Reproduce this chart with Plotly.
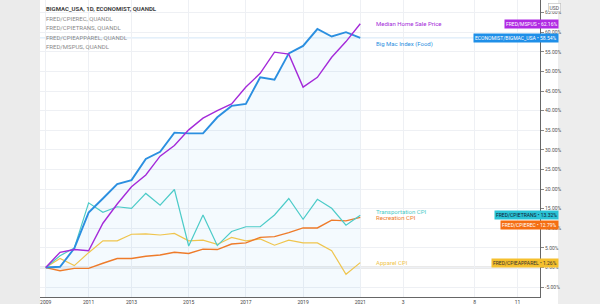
import plotly.graph_objects as go

# ---- data (percent change since 2009) ----
idx = list(range(23))
big_mac = [0, 0.2, 4.9, 14.0, 17.6, 21.3, 22.3, 27.7, 29.5, 34.4, 34.2, 34.2, 38.3, 41.2,
           41.7, 48.5, 47.9, 54.6, 56.5, 60.8, 58.9, 60.0, 58.54]
home = [0, 3.9, 4.6, 4.3, 11.3, 16.2, 20.6, 23.6, 28.4, 31.1, 35.1, 38.1, 40.0, 41.7,
        46.0, 49.5, 54.9, 54.4, 46.0, 48.5, 53.6, 57.6, 62.16]
transport = [0, 3.0, 5.0, 16.5, 14.1, 15.5, 15.1, 18.9, 15.9, 19.9, 5.5, 13.4, 5.6, 9.2,
             10.4, 10.4, 13.4, 17.6, 12.3, 17.4, 15.1, 10.8, 13.32]
recreation = [0, -0.8, -0.2, -0.2, 1.1, 2.3, 2.3, 2.9, 3.2, 3.9, 3.6, 4.7, 4.6, 6.0,
              6.3, 7.7, 7.9, 8.9, 10.1, 10.1, 12.1, 11.9, 12.79]
apparel = [0, 2.3, 0.5, 3.8, 6.8, 6.8, 8.5, 8.6, 8.3, 8.7, 6.8, 7.0, 5.9, 7.7,
           6.8, 7.3, 5.7, 7.0, 6.3, 6.3, 4.3, -1.7, 1.26]

tick_pos = [0, 3, 6, 10, 14, 18, 22, 25, 30, 33]
tick_text = ["2009", "2011", "2013", "2015", "2017", "2019", "2021", "3", "8", "11"]
y_ticks = list(range(-5, 70, 5))

legend_lines = ["BIGMAC_USA, 1D, ECONOMIST, QUANDL", "FRED/CPIEREC, QUANDL",
                "FRED/CPIETRANS, QUANDL", "FRED/CPIEAPPAREL, QUANDL", "FRED/MSPUS, QUANDL"]

series = [
    # name, values, line colour, width, label, label shift, box text, box colour, box font colour, box shift
    ("home", home, "#a42ad9", 1.4, "Median Home Sale Price", 0, "FRED/MSPUS • 62.16%", "#b02be3", "white", 0),
    ("bigmac", big_mac, "#2b8fe0", 1.9, "Big Mac Index (Food)", -6, "ECONOMIST/BIGMAC_USA • 58.54%", "#1f8fe8", "white", 0),
    ("transport", transport, "#4ccbc8", 1.2, "Transportation CPI", 4, "FRED/CPIETRANS • 13.32%", "#2ac3d6", "#123", 0),
    ("recreation", recreation, "#ee7b2a", 1.4, "Recreation CPI", 0, "FRED/CPIEREC • 12.79%", "#f56e12", "white", -8),
    ("apparel", apparel, "#efc54e", 1.2, "Apparel CPI", 0, "FRED/CPIEAPPAREL • 1.26%", "#f5c02e", "#333", 0),
]

Y_MIN, Y_MAX = -7.5, 68.2
X_MIN, X_MAX = -0.4, 34.57

fig = go.Figure()

# baseline for the area fill under the Big Mac line
fig.add_trace(go.Scatter(x=idx, y=[Y_MIN] * len(idx), mode="lines",
                         line=dict(width=0), hoverinfo="skip", showlegend=False))
fig.add_trace(go.Scatter(x=idx, y=big_mac, mode="lines", fill="tonexty",
                         fillcolor="rgba(33,150,243,0.05)", line=dict(width=0),
                         hoverinfo="skip", showlegend=False))

for name, vals, col, w, *_ in series[::-1]:
    fig.add_trace(go.Scatter(x=idx, y=vals, mode="lines", line=dict(color=col, width=w),
                             showlegend=False))

shapes = [
    # grey surround
    dict(type="rect", xref="paper", yref="paper", x0=-0.2, x1=-0.0, y0=-0.1, y1=1.1,
         fillcolor="#ebebeb", line_width=0, layer="below"),
    dict(type="rect", xref="paper", yref="paper", x0=1.036, x1=1.3, y0=-0.1, y1=1.1,
         fillcolor="#ededed", line_width=0, layer="below"),
    # zero line
    dict(type="line", xref="paper", yref="y", x0=0, x1=1, y0=0, y1=0,
         line=dict(color="#d6d6d6", width=2), layer="below"),
    # big mac price line
    dict(type="line", xref="paper", yref="y", x0=0, x1=1, y0=big_mac[-1], y1=big_mac[-1],
         line=dict(color="#d3e6f7", width=1), layer="below"),
]

annotations = []
for name, vals, col, w, label, shift, box, boxcol, boxfont, bshift in series:
    annotations.append(dict(x=idx[-1], y=vals[-1], xref="x", yref="y", text=label,
                            showarrow=False, xanchor="left", xshift=14, yshift=shift,
                            font=dict(size=6, color=col, family="Roboto")))
    annotations.append(dict(x=1.038, y=vals[-1], xref="paper", yref="y", text=box,
                            showarrow=False, xanchor="right", yshift=bshift,
                            bgcolor=boxcol, borderpad=1,
                            font=dict(size=5, color=boxfont, family="Roboto")))

for k, t in enumerate(legend_lines):
    annotations.append(dict(x=0.008, y=1 - (9 + 9.4 * k) / 297, xref="paper", yref="paper",
                            text=("<b>%s</b>" % t) if k == 0 else t, showarrow=False,
                            xanchor="left", yanchor="middle",
                            font=dict(size=6, color="#444" if k == 0 else "#8a8a8a",
                                      family="Roboto")))

annotations.append(dict(x=1.016, y=1 - 8 / 297, xref="paper", yref="paper", text="USD",
                        showarrow=False, xanchor="left", yanchor="middle", bgcolor="white",
                        bordercolor="#bbb", borderwidth=0.6, borderpad=1,
                        font=dict(size=5, color="#555", family="Roboto")))

fig.update_layout(
    width=600, height=304,
    margin=dict(l=40, r=60, t=0, b=7),
    paper_bgcolor="white", plot_bgcolor="white",
    shapes=shapes, annotations=annotations,
    xaxis=dict(range=[X_MIN, X_MAX], tickvals=tick_pos, ticktext=tick_text,
               showgrid=True, gridcolor="#eef0f4", gridwidth=1, zeroline=False,
               showline=True, linecolor="#666", linewidth=1, ticks="",
               tickfont=dict(size=5, color="#444", family="Roboto")),
    yaxis=dict(range=[Y_MIN, Y_MAX], side="right", tickvals=y_ticks,
               ticktext=["%.2f%%" % v for v in y_ticks],
               showgrid=True, gridcolor="#eef0f4", gridwidth=1, zeroline=False,
               showline=True, linecolor="#666", linewidth=1, ticks="outside",
               ticklen=3, tickcolor="#888",
               tickfont=dict(size=5, color="#555", family="Roboto")),
)

fig.write_html("out.html")
